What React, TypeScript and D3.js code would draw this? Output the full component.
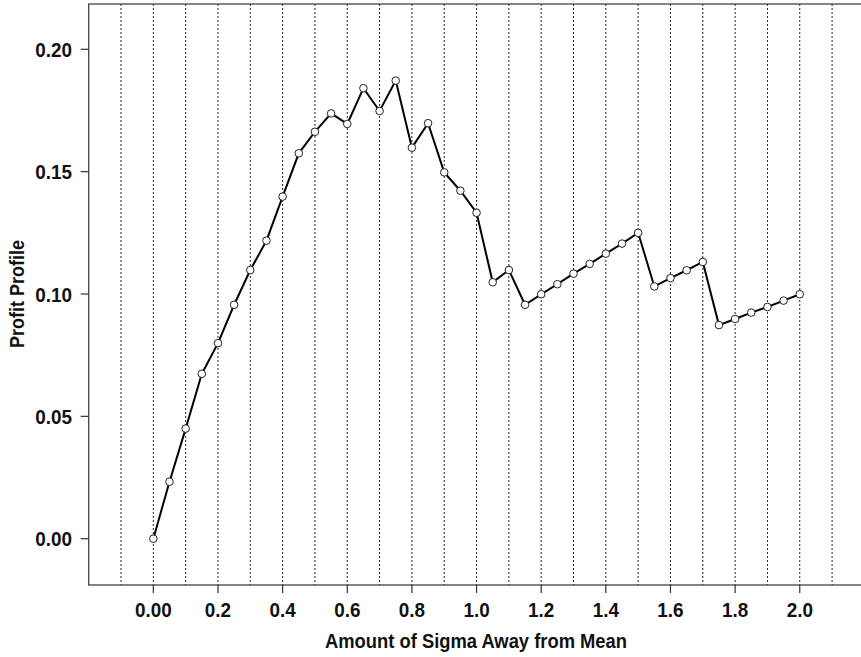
import React, { useEffect, useRef } from "react";
import * as d3 from "d3";

const xValues = [
  0.0, 0.05, 0.1, 0.15, 0.2, 0.25, 0.3, 0.35, 0.4, 0.45, 0.5, 0.55, 0.6, 0.65, 0.7, 0.75, 0.8,
  0.85, 0.9, 0.95, 1.0, 1.05, 1.1, 1.15, 1.2, 1.25, 1.3, 1.35, 1.4, 1.45, 1.5, 1.55, 1.6, 1.65,
  1.7, 1.75, 1.8, 1.85, 1.9, 1.95, 2.0,
];
const profitValues = [
  0.0, 0.0233, 0.045, 0.0674, 0.0799, 0.0956, 0.1098, 0.1218, 0.1398, 0.1575, 0.1663, 0.1738,
  0.1695, 0.1841, 0.1748, 0.1872, 0.1598, 0.1698, 0.1497, 0.1422, 0.1332, 0.1048, 0.1098, 0.0956,
  0.0999, 0.104, 0.1083, 0.1123, 0.1165, 0.1206, 0.125, 0.1031, 0.1065, 0.1097, 0.1131, 0.0873,
  0.0898, 0.0924, 0.0947, 0.0973, 0.0999,
];
const xTicks = [0.0, 0.2, 0.4, 0.6, 0.8, 1.0, 1.2, 1.4, 1.6, 1.8, 2.0];
const xTickLabels = ["0.00", "0.2", "0.4", "0.6", "0.8", "1.0", "1.2", "1.4", "1.6", "1.8", "2.0"];
const yTicks = [0.0, 0.05, 0.1, 0.15, 0.2];
const yTickLabels = ["0.00", "0.05", "0.10", "0.15", "0.20"];
const gridValues = d3.range(-1, 23).map((i) => i / 10);

const W = 861;
const H = 657;
const FONT = "'Liberation Sans', Arial, sans-serif";
const FS = 21;
const SX = 0.9;

export default function App() {
  const ref = useRef<SVGSVGElement | null>(null);

  useEffect(() => {
    const svg = d3.select(ref.current);
    svg.selectAll("*").remove();

    const left = 88.7;
    const right = 864.4;
    const top = 4;
    const bottom = 585;

    const x = d3.scaleLinear().domain([-0.2, 2.2]).range([left, right]);
    const y = d3.scaleLinear().domain([0, 0.2]).range([538.7, 49.3]);

    // grid lines
    svg
      .append("g")
      .selectAll("line")
      .data(gridValues)
      .join("line")
      .attr("x1", (d) => x(d))
      .attr("x2", (d) => x(d))
      .attr("y1", top)
      .attr("y2", bottom)
      .attr("stroke", "#222")
      .attr("stroke-width", 1)
      .attr("stroke-dasharray", "2,2");

    // frame
    svg
      .append("rect")
      .attr("x", left)
      .attr("y", top)
      .attr("width", right - left)
      .attr("height", bottom - top)
      .attr("fill", "none")
      .attr("stroke", "#444")
      .attr("stroke-width", 1.3);

    // y axis
    const yAxis = svg.append("g");
    yAxis
      .selectAll("line")
      .data(yTicks)
      .join("line")
      .attr("x1", left - 8)
      .attr("x2", left)
      .attr("y1", (d) => y(d))
      .attr("y2", (d) => y(d))
      .attr("stroke", "#333")
      .attr("stroke-width", 1.2);
    yAxis
      .selectAll("text")
      .data(yTicks)
      .join("text")
      .attr("transform", (d) => `translate(72, ${y(d) + 7.5}) scale(${SX}, 1)`)
      .attr("text-anchor", "end")
      .attr("font-family", FONT)
      .attr("font-size", FS)
      .attr("font-weight", "bold")
      .attr("fill", "#111")
      .text((d, i) => yTickLabels[i]);

    // x axis
    const xAxis = svg.append("g");
    xAxis
      .selectAll("line")
      .data(xTicks)
      .join("line")
      .attr("x1", (d) => x(d))
      .attr("x2", (d) => x(d))
      .attr("y1", bottom)
      .attr("y2", bottom + 8)
      .attr("stroke", "#333")
      .attr("stroke-width", 1.2);
    xAxis
      .selectAll("text")
      .data(xTicks)
      .join("text")
      .attr("transform", (d) => `translate(${x(d)}, 616.7) scale(${SX}, 1)`)
      .attr("text-anchor", "middle")
      .attr("font-family", FONT)
      .attr("font-size", FS)
      .attr("font-weight", "bold")
      .attr("fill", "#111")
      .text((d, i) => xTickLabels[i]);

    // axis titles
    svg
      .append("text")
      .attr("x", 325)
      .attr("y", 648)
      .attr("textLength", 302)
      .attr("lengthAdjust", "spacingAndGlyphs")
      .attr("font-family", FONT)
      .attr("font-size", FS)
      .attr("font-weight", "bold")
      .attr("fill", "#111")
      .text("Amount of Sigma Away from Mean");

    svg
      .append("text")
      .attr("transform", `translate(24, 348) rotate(-90)`)
      .attr("textLength", 108)
      .attr("lengthAdjust", "spacingAndGlyphs")
      .attr("font-family", FONT)
      .attr("font-size", FS)
      .attr("font-weight", "bold")
      .attr("fill", "#111")
      .text("Profit Profile");

    // line
    const data = xValues.map((v, i) => [v, profitValues[i]] as [number, number]);
    const line = d3
      .line<[number, number]>()
      .x((d) => x(d[0]))
      .y((d) => y(d[1]));
    svg
      .append("path")
      .datum(data)
      .attr("d", line)
      .attr("fill", "none")
      .attr("stroke", "#000")
      .attr("stroke-width", 2);

    svg
      .append("g")
      .selectAll("circle")
      .data(data)
      .join("circle")
      .attr("cx", (d) => x(d[0]))
      .attr("cy", (d) => y(d[1]))
      .attr("r", 3.8)
      .attr("fill", "#fff")
      .attr("stroke", "#222")
      .attr("stroke-width", 1);
  }, []);

  return (
    <svg
      ref={ref}
      width={W}
      height={H}
      style={{ position: "absolute", left: 0, top: 0, background: "#fff" }}
    />
  );
}
